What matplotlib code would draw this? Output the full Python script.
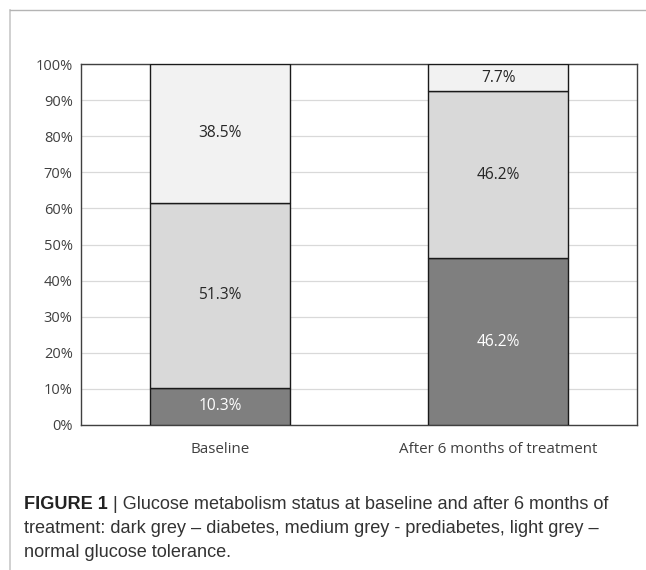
import matplotlib
matplotlib.use("Agg")
import matplotlib.pyplot as plt
from matplotlib.lines import Line2D

categories = ["Baseline", "After 6 months of treatment"]
diabetes = [10.3, 46.2]
prediabetes = [51.3, 46.2]
normal = [38.5, 7.7]
yticks = [0, 10, 20, 30, 40, 50, 60, 70, 80, 90, 100]

colors = ["#7f7f7f", "#d9d9d9", "#f2f2f2"]
label_colors = ["white", "#262626", "#262626"]
font = ["Open Sans", "DejaVu Sans"]

fig = plt.figure(figsize=(6.46, 5.70), dpi=100)
ax = fig.add_axes([81 / 646, 1 - 425 / 570, (637 - 81) / 646, (425 - 64) / 570])

x = list(range(len(categories)))
bottom = [0.0] * len(categories)
for series, col, lcol in zip([diabetes, prediabetes, normal], colors, label_colors):
    top_vals = [min(b + v, 100) for b, v in zip(bottom, series)]
    heights = [t - b for t, b in zip(top_vals, bottom)]
    ax.bar(x, heights, bottom=bottom, width=0.505, color=col,
           edgecolor="#1a1a1a", linewidth=1.0, zorder=3)
    for xi, b, h, v in zip(x, bottom, heights, series):
        ax.text(xi, b + h / 2, f"{v:.1f}%", ha="center", va="center",
                color=lcol, fontsize=11.2, family=font, zorder=4)
    bottom = top_vals

ax.set_xlim(-0.5, 1.5)
ax.set_ylim(0, 100)
ax.set_yticks(yticks)
ax.set_yticklabels([f"{t}%" for t in yticks], family=font, fontsize=10.5, color="#404040")
ax.set_xticks(x)
ax.set_xticklabels(categories, family=font, fontsize=10.9, color="#404040")
ax.tick_params(length=0, pad=6)
ax.tick_params(axis="x", pad=12)
ax.yaxis.grid(True, color="#d9d9d9", linewidth=0.9, zorder=0)
ax.set_axisbelow(True)
for s in ax.spines.values():
    s.set_color("#404040")
    s.set_linewidth(1.0)

# page frame lines
fig.add_artist(Line2D([10 / 646, 10 / 646], [0, 1 - 10 / 570], color="#c8c8c8", lw=1.2))
fig.add_artist(Line2D([10 / 646, 1], [1 - 10 / 570, 1 - 10 / 570], color="#b4b4b4", lw=1.0))

cap_font = ["Liberation Sans", "DejaVu Sans"]
cap_size = 13.1
t1 = fig.text(24 / 646, 1 - 509 / 570, "FIGURE 1", fontsize=cap_size, fontweight="bold",
              family=cap_font, color="#222222", va="baseline")
fig.add_artist(plt.Annotation(" | Glucose metabolism status at baseline and after 6 months of",
                              xy=(1, 0), xycoords=t1, va="bottom", fontsize=cap_size,
                              family=cap_font, color="#333333"))
fig.text(24 / 646, 1 - 533 / 570,
         "treatment: dark grey \u2013 diabetes, medium grey - prediabetes, light grey \u2013",
         fontsize=cap_size, family=cap_font, color="#333333", va="baseline")
fig.text(24 / 646, 1 - 557 / 570, "normal glucose tolerance.",
         fontsize=cap_size, family=cap_font, color="#333333", va="baseline")

fig.savefig("out.png", dpi=100, facecolor="white")
